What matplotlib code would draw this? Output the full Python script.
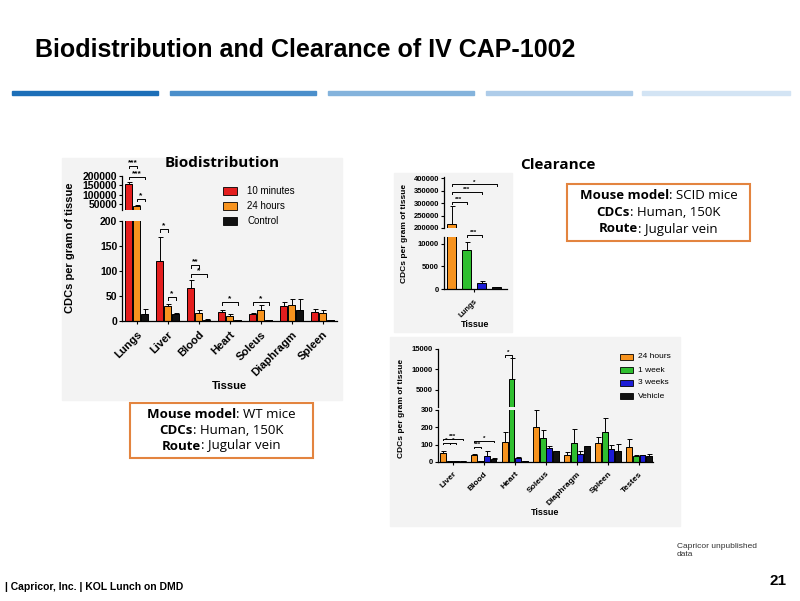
import numpy as np
import matplotlib
matplotlib.use('Agg')
import matplotlib.pyplot as plt
from matplotlib.patches import Rectangle

W, H = 800, 601
plt.rcParams['font.family'] = ['Liberation Sans', 'DejaVu Sans']

# ---- data: biodistribution (WT mice) ----
bio_tissues = ['Lungs', 'Liver', 'Blood', 'Heart', 'Soleus', 'Diaphragm', 'Spleen']
bio_10min = [159000, 120, 67, 19, 15, 30, 19]
bio_10min_err = [167000, 168, 83, 23, 16, 39, 24]
bio_24h = [41000, 31, 16, 11, 23, 33, 17]
bio_24h_err = [44000, 35, 22, 15, 33, 44, 22]
bio_ctrl = [15, 15, 3, 2, 2, 23, 2]
bio_ctrl_err = [25, 16, 4, 3, 3, 44, 3]

# ---- data: clearance lungs (SCID mice) ----
lung_groups = ['24 hours', '1 week', '3 weeks', 'Vehicle']
lung_vals = [218000, 8600, 1300, 400]
lung_err = [287000, 10300, 1800, 500]

# ---- data: clearance other tissues ----
clr_tissues = ['Liver', 'Blood', 'Heart', 'Soleus', 'Diaphragm', 'Spleen', 'Testes']
clr_24h = [50, 38, 115, 200, 42, 108, 88]
clr_24h_err = [66, 44, 174, 298, 60, 145, 135]
clr_1wk = [6, 6, 7700, 138, 108, 172, 33]
clr_1wk_err = [7, 7, 12700, 184, 190, 252, 38]
clr_3wk = [3, 34, 22, 80, 45, 75, 38]
clr_3wk_err = [4, 66, 28, 92, 62, 96, 43]
clr_veh = [3, 18, 5, 63, 93, 62, 36]
clr_veh_err = [4, 22, 6, 66, 93, 106, 46]

RED, ORANGE, BLACK = '#e41e1e', '#f7931e', '#111111'
GREEN, BLUE = '#2fbf2f', '#1c1cd6'
BOX = '#e3843f'
PANEL = '#f3f3f3'


def rect(x0, y0, x1, y1):
    return [x0 / W, 1 - y1 / H, (x1 - x0) / W, (y1 - y0) / H]


def fx(x):
    return x / W


def fy(y):
    return 1 - y / H


fig = plt.figure(figsize=(8, 6.01), dpi=100)

# title and header bars
fig.text(fx(35), fy(50), 'Biodistribution and Clearance of IV CAP-1002',
         weight='bold', fontsize=18, va='center', ha='left')
bar_cols = ['#1d6fb8', '#4b8fcb', '#84b3dc', '#aecce9', '#d3e4f4']
bar_x = [(12, 158), (170, 316), (328, 474), (486, 632), (642, 790)]
for (a, b), c in zip(bar_x, bar_cols):
    fig.patches.append(Rectangle((fx(a), fy(95)), fx(b - a), 4 / H,
                                 transform=fig.transFigure, color=c))

# panels
for (a, b, c, d) in [(62, 158, 342, 400), (394, 173, 512, 332), (390, 337, 680, 526)]:
    fig.patches.append(Rectangle((fx(a), fy(d)), fx(c - a), (d - b) / H,
                                 transform=fig.transFigure, color=PANEL, zorder=-5))


def style(ax, bottom=True, fs=7):
    for s in ['top', 'right']:
        ax.spines[s].set_visible(False)
    if not bottom:
        ax.spines['bottom'].set_visible(False)
        ax.tick_params(axis='x', bottom=False, labelbottom=False)
    ax.patch.set_alpha(0)
    ax.tick_params(axis='y', labelsize=fs, length=2.5, width=0.8, pad=1)
    ax.tick_params(axis='x', length=2.5, width=0.8)
    for t in ax.get_yticklabels():
        t.set_fontweight('bold')
    for s in ax.spines.values():
        s.set_linewidth(0.9)


def bars(ax, x, vals, errs, col, w):
    vals = np.array(vals, float)
    errs = np.array(errs, float)
    ax.bar(x, vals, w, color=col, edgecolor='black', linewidth=0.7, zorder=2)
    ax.errorbar(x, vals, yerr=[np.zeros_like(vals), errs - vals], fmt='none',
                ecolor='black', elinewidth=0.7, capsize=1.8, capthick=0.7, zorder=1)


def bracket(ax, x1, x2, y, h, label, fs=6):
    ax.plot([x1, x1, x2, x2], [y - h, y, y, y - h], color='black', lw=0.7,
            clip_on=False, zorder=3)
    ax.text((x1 + x2) / 2, y, label, ha='center', va='bottom', fontsize=fs,
            clip_on=False, weight='bold')


# ---------------- Biodistribution ----------------
xb = np.arange(len(bio_tissues))
wb, ob = 0.23, 0.26
ax_lo = fig.add_axes(rect(122, 221, 337, 321))
ax_hi = fig.add_axes(rect(122, 176, 337, 210))
for ax in (ax_lo, ax_hi):
    bars(ax, xb - ob, bio_10min, bio_10min_err, RED, wb)
    bars(ax, xb, bio_24h, bio_24h_err, ORANGE, wb)
    bars(ax, xb + ob, bio_ctrl, bio_ctrl_err, BLACK, wb)
    ax.set_xlim(-0.48, 6.46)
ax_lo.set_ylim(0, 200)
ax_lo.set_yticks([0, 50, 100, 150, 200])
ax_hi.set_ylim(20000, 200000)
ax_hi.set_yticks([50000, 100000, 150000, 200000])
style(ax_lo, fs=7.5)
style(ax_hi, bottom=False, fs=7.5)
ax_lo.set_xticks(xb)
ax_lo.set_xticklabels(bio_tissues, rotation=45, ha='right', rotation_mode='anchor',
                      fontsize=8, weight='bold')
ax_lo.set_xlabel('Tissue', fontsize=8, weight='bold', labelpad=2)
fig.text(fx(70), fy(248), 'CDCs per gram of tissue', rotation=90, fontsize=8,
         weight='bold', ha='center', va='center')
fig.text(fx(222), fy(163), 'Biodistribution', family='Open Sans', weight='bold',
         fontsize=11, ha='center', va='center')
bracket(ax_hi, -ob, 0, 253000, 10000, '***')
bracket(ax_hi, -ob, ob, 194700, 10000, '***')
bracket(ax_hi, 0, ob, 78000, 10000, '*')
bracket(ax_lo, 1 - ob, 1, 184, 6, '*')
bracket(ax_lo, 1, 1 + ob, 48, 6, '*')
bracket(ax_lo, 2 - ob, 2, 112, 6, '**')
bracket(ax_lo, 2 - ob, 2 + ob, 94, 6, '*')
bracket(ax_lo, 3 - ob, 3 + ob, 38, 6, '*')
bracket(ax_lo, 4 - ob, 4 + ob, 38, 6, '*')
for lab, col, yy in zip(['10 minutes', '24 hours', 'Control'], [RED, ORANGE, BLACK],
                        [191, 206, 221]):
    fig.patches.append(Rectangle((fx(223), fy(yy + 4)), fx(14), 8 / H,
                                 transform=fig.transFigure, facecolor=col,
                                 edgecolor='black', lw=0.6))
    fig.text(fx(247), fy(yy), lab, fontsize=7, va='center')

# ---------------- Clearance: lungs ----------------
xl = np.arange(len(lung_groups))
ml_lo = fig.add_axes(rect(444, 237, 507, 289))
ml_hi = fig.add_axes(rect(444, 177, 507, 228))
for ax in (ml_lo, ml_hi):
    for i, col in enumerate([ORANGE, GREEN, BLUE, BLACK]):
        bars(ax, [xl[i]], [lung_vals[i]], [lung_err[i]], col, 0.65)
    ax.set_xlim(-0.5, 3.7)
ml_lo.set_ylim(0, 11500)
ml_lo.set_yticks([0, 5000, 10000])
ml_hi.set_ylim(200000, 405000)
ml_hi.set_yticks([200000, 250000, 300000, 350000, 400000])
style(ml_lo, fs=5.5)
style(ml_hi, bottom=False, fs=5.5)
ml_lo.set_xticks([1.5])
ml_lo.set_xticklabels(['Lungs'], rotation=45, ha='right', rotation_mode='anchor',
                      fontsize=5.5, weight='bold')
ml_lo.set_xlabel('Tissue', fontsize=6.5, weight='bold', labelpad=1)
fig.text(fx(405), fy(233), 'CDCs per gram of tissue', rotation=90, fontsize=6,
         weight='bold', ha='center', va='center')
bracket(ml_hi, 0, 1, 306000, 8000, '***', fs=4.5)
bracket(ml_hi, 0, 2, 343000, 8000, '***', fs=4.5)
bracket(ml_hi, 0, 3, 375000, 8000, '*', fs=4.5)
bracket(ml_lo, 1, 2, 12000, 400, '***', fs=4.5)
fig.text(fx(558), fy(165), 'Clearance', family='Open Sans', weight='bold',
         fontsize=11, ha='center', va='center')

# ---------------- Clearance: tissues ----------------
xc = np.arange(len(clr_tissues))
wc, oc = 0.18, 0.21
bc_lo = fig.add_axes(rect(438, 410, 653, 462))
bc_hi = fig.add_axes(rect(438, 349, 653, 407))
for ax in (bc_lo, bc_hi):
    bars(ax, xc - 1.5 * oc, clr_24h, clr_24h_err, ORANGE, wc)
    bars(ax, xc - 0.5 * oc, clr_1wk, clr_1wk_err, GREEN, wc)
    bars(ax, xc + 0.5 * oc, clr_3wk, clr_3wk_err, BLUE, wc)
    bars(ax, xc + 1.5 * oc, clr_veh, clr_veh_err, BLACK, wc)
    ax.set_xlim(-0.48, 6.45)
bc_lo.set_ylim(0, 300)
bc_lo.set_yticks([0, 100, 200, 300])
bc_hi.set_ylim(850, 15000)
bc_hi.set_yticks([5000, 10000, 15000])
style(bc_lo, fs=5.5)
style(bc_hi, bottom=False, fs=5.5)
bc_lo.set_xticks(xc)
bc_lo.set_xticklabels(clr_tissues, rotation=45, ha='right', rotation_mode='anchor',
                      fontsize=6, weight='bold')
bc_lo.set_xlabel('Tissue', fontsize=6.5, weight='bold', labelpad=1)
fig.text(fx(402), fy(408), 'CDCs per gram of tissue', rotation=90, fontsize=6,
         weight='bold', ha='center', va='center')
bracket(bc_lo, -1.5 * oc, 1.5 * oc, 133, 6, '***', fs=4.5)
bracket(bc_lo, -1.5 * oc, -0.5 * oc, 110, 6, '*', fs=4.5)
bracket(bc_lo, -0.5 * oc, 0.5 * oc, 110, 6, '*', fs=4.5)
bracket(bc_lo, 1 - 1.5 * oc, 1 + 1.5 * oc, 121, 6, '*', fs=4.5)
bracket(bc_lo, 1 - 1.5 * oc, 1 - 0.5 * oc, 87, 6, '***', fs=4.5)
bracket(bc_hi, 2 - 1.5 * oc, 2 - 0.5 * oc, 13500, 400, '*', fs=4.5)
for lab, col, yy in zip(['24 hours', '1 week', '3 weeks', 'Vehicle'],
                        [ORANGE, GREEN, BLUE, BLACK], [357, 370, 383, 396]):
    fig.patches.append(Rectangle((fx(620), fy(yy + 3)), fx(13), 6 / H,
                                 transform=fig.transFigure, facecolor=col,
                                 edgecolor='black', lw=0.6))
    fig.text(fx(638), fy(yy), lab, fontsize=6, va='center')

# ---------------- info boxes ----------------
fig.canvas.draw()
renderer = fig.canvas.get_renderer()


def mixed_line(xc_px, y_px, parts, size=9.5):
    objs = []
    for txt, wt in parts:
        objs.append(fig.text(0, fy(y_px), txt, family='Open Sans', weight=wt,
                             fontsize=size, va='center', ha='left'))
    widths = [o.get_window_extent(renderer).width for o in objs]
    x = xc_px - sum(widths) / 2
    for o, wdt in zip(objs, widths):
        o.set_x(fx(x))
        x += wdt


def info_box(x0, y0, x1, y1, lines, ys):
    fig.patches.append(Rectangle((fx(x0), fy(y1)), fx(x1 - x0), (y1 - y0) / H,
                                 transform=fig.transFigure, facecolor='white',
                                 edgecolor=BOX, lw=1.5))
    for parts, yy in zip(lines, ys):
        mixed_line((x0 + x1) / 2, yy, parts)


info_box(130, 403, 313, 458,
         [[('Mouse model', 'bold'), (': WT mice', 'normal')],
          [('CDCs', 'bold'), (': Human, 150K', 'normal')],
          [('Route', 'bold'), (': Jugular vein', 'normal')]],
         [414, 430, 446])
info_box(567, 184, 750, 241,
         [[('Mouse model', 'bold'), (': SCID mice', 'normal')],
          [('CDCs', 'bold'), (': Human, 150K', 'normal')],
          [('Route', 'bold'), (': Jugular vein', 'normal')]],
         [196, 213, 229])

# footer
fig.text(fx(677), fy(550), 'Capricor unpublished\ndata', fontsize=6,
         va='center', color='#333333')
fig.text(fx(5), fy(587), '| Capricor, Inc. | KOL Lunch on DMD', fontsize=7.5,
         weight='bold', va='center')
fig.text(fx(786), fy(581), '21', fontsize=11, weight='bold', va='center', ha='right')

fig.savefig('out.png', dpi=100)
